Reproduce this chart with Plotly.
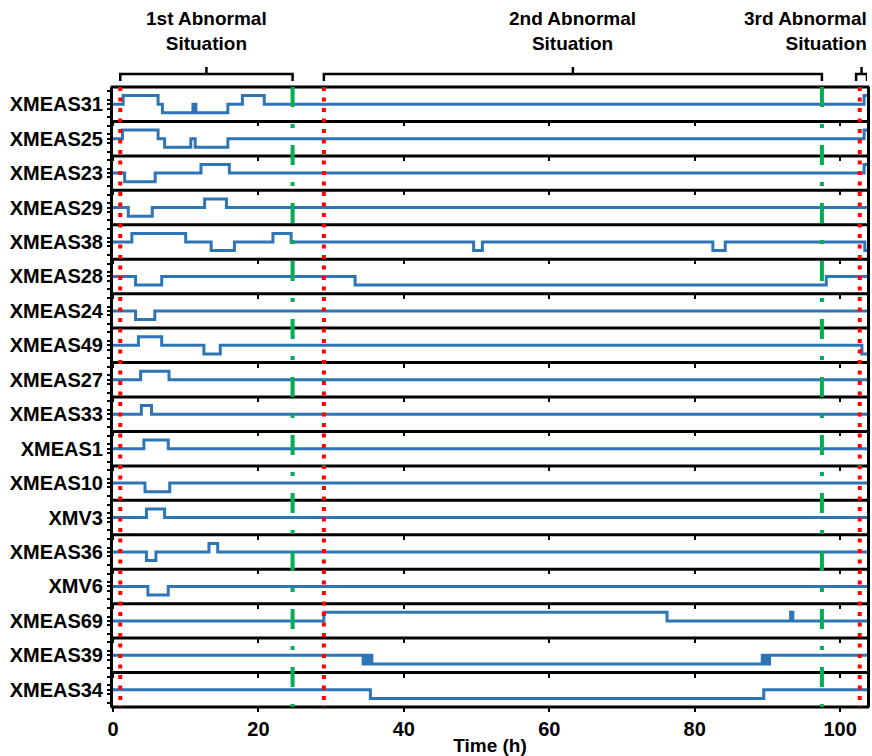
import plotly.graph_objects as go
from plotly.subplots import make_subplots

T_END = 103.7

labels = ["XMEAS31", "XMEAS25", "XMEAS23", "XMEAS29", "XMEAS38", "XMEAS28",
          "XMEAS24", "XMEAS49", "XMEAS27", "XMEAS33", "XMEAS1", "XMEAS10",
          "XMV3", "XMEAS36", "XMV6", "XMEAS69", "XMEAS39", "XMEAS34"]

# step signals: change times (h) and levels after each change (0 = normal, +1 high, -1 low)
t_xmeas31 = [0, 1.4, 6.2, 6.8, 11.0, 11.4, 15.8, 17.8, 20.8, 103.3]
y_xmeas31 = [0, 1, 0, -1, 0, -1, 0, 1, 0, 1]
t_xmeas25 = [0, 1.3, 6.2, 7.1, 10.7, 11.3, 15.8, 103.3]
y_xmeas25 = [0, 1, 0, -1, 0, -1, 0, 1]
t_xmeas23 = [0, 1.6, 5.8, 12.1, 16.0, 103.3]
y_xmeas23 = [0, -1, 0, 1, 0, 1]
t_xmeas29 = [0, 2.1, 5.4, 12.6, 15.6]
y_xmeas29 = [0, -1, 0, 1, 0]
t_xmeas38 = [0, 2.6, 10.0, 13.5, 16.7, 22.0, 24.5, 49.6, 50.8, 82.5, 84.2, 103.4]
y_xmeas38 = [0, 1, 0, -1, 0, 1, 0, -1, 0, -1, 0, -1]
t_xmeas28 = [0, 3.1, 6.7, 33.3, 98.1]
y_xmeas28 = [0, -1, 0, -1, 0]
t_xmeas24 = [0, 3.1, 5.75]
y_xmeas24 = [0, -1, 0]
t_xmeas49 = [0, 3.5, 6.7, 12.5, 14.75, 103.0]
y_xmeas49 = [0, 1, 0, -1, 0, -1]
t_xmeas27 = [0, 3.8, 7.7]
y_xmeas27 = [0, 1, 0]
t_xmeas33 = [0, 3.9, 5.3]
y_xmeas33 = [0, 1, 0]
t_xmeas1 = [0, 4.25, 7.6]
y_xmeas1 = [0, 1, 0]
t_xmeas10 = [0, 4.4, 7.8]
y_xmeas10 = [0, -1, 0]
t_xmv3 = [0, 4.6, 7.1]
y_xmv3 = [0, 1, 0]
t_xmeas36 = [0, 4.6, 5.9, 13.2, 14.4]
y_xmeas36 = [0, -1, 0, 1, 0]
t_xmv6 = [0, 4.8, 7.6]
y_xmv6 = [0, -1, 0]
t_xmeas69 = [0, 29.0, 76.2, 93.2, 93.5]
y_xmeas69 = [0, 1, 0, 1, 0]
t_xmeas39 = [0, 34.4, 34.8, 35.0, 35.4, 35.6, 89.3, 89.6, 89.8, 90.1, 90.3]
y_xmeas39 = [0, -1, 0, -1, 0, -1, 0, -1, 0, -1, 0]
t_xmeas34 = [0, 35.4, 89.5]
y_xmeas34 = [0, -1, 0]

times = [t_xmeas31, t_xmeas25, t_xmeas23, t_xmeas29, t_xmeas38, t_xmeas28,
         t_xmeas24, t_xmeas49, t_xmeas27, t_xmeas33, t_xmeas1, t_xmeas10,
         t_xmv3, t_xmeas36, t_xmv6, t_xmeas69, t_xmeas39, t_xmeas34]
levels = [y_xmeas31, y_xmeas25, y_xmeas23, y_xmeas29, y_xmeas38, y_xmeas28,
          y_xmeas24, y_xmeas49, y_xmeas27, y_xmeas33, y_xmeas1, y_xmeas10,
          y_xmv3, y_xmeas36, y_xmv6, y_xmeas69, y_xmeas39, y_xmeas34]

fault_starts = [1.0, 29.0, 102.7]     # red dotted
fault_ends = [24.7, 97.5]             # green dash-dot
situations = ["1st Abnormal<br>Situation", "2nd Abnormal<br>Situation", "3rd Abnormal<br>Situation"]
situation_spans = [(1.0, 24.7), (29.0, 97.5), (102.2, 103.7)]
x_ticks = [0, 20, 40, 60, 80, 100]

BLUE = "#2E75B6"
RED = "#FF0000"
GREEN = "#00B050"
FONT = "Liberation Sans, Arial, sans-serif"

n = len(labels)
fig = make_subplots(rows=n, cols=1, shared_xaxes=True, vertical_spacing=0)

for i in range(n):
    t = times[i] + [T_END]
    y = levels[i] + [levels[i][-1]]
    fig.add_trace(go.Scatter(x=t, y=y, mode="lines",
                             line=dict(color=BLUE, width=3, shape="hv"),
                             showlegend=False, hoverinfo="skip"),
                  row=i + 1, col=1)
    fig.update_yaxes(range=[-2, 2], showgrid=False, zeroline=False,
                     showline=True, linewidth=3, linecolor="black", mirror=True,
                     tickvals=[-1.5, -0.5, 0, 0.5, 1.5],
                     ticktext=["", "", "<b>" + labels[i] + "</b>", "", ""],
                     ticks="outside", ticklen=3, tickwidth=2, tickcolor="black",
                     tickfont=dict(family=FONT, size=20, color="black"),
                     row=i + 1, col=1)
    fig.update_xaxes(range=[0, T_END], showgrid=False, zeroline=False,
                     showline=False,
                     tickvals=x_ticks, ticktext=["<b>%d</b>" % v for v in x_ticks],
                     ticks="outside", ticklen=4, tickwidth=2,
                     tickcolor="black",
                     tickfont=dict(family=FONT, size=20, color="black"),
                     row=i + 1, col=1)

fig.update_xaxes(title=dict(text="<b>Time (h)</b>", font=dict(family=FONT, size=19, color="black"),
                            standoff=0),
                 row=n, col=1)

bottom_x = "x" + str(n)
shapes = []
# row separators and frame
for k in range(n + 1):
    shapes.append(dict(type="line", xref="paper", yref="paper", x0=-0.003, x1=1.003,
                       y0=k / n, y1=k / n, line=dict(color="black", width=3)))
for xv in fault_starts:
    shapes.append(dict(type="line", xref=bottom_x, yref="paper", x0=xv, x1=xv, y0=1, y1=0,
                       line=dict(color=RED, width=4, dash="4px,6.5px")))
for xv in fault_ends:
    shapes.append(dict(type="line", xref=bottom_x, yref="paper", x0=xv, x1=xv, y0=1, y1=0,
                       line=dict(color=GREEN, width=4, dash="20px,17px,4px,17px")))


def py(pix):
    return (707 - pix) / 620.0


annotations = []
for k, (a, b) in enumerate(situation_spans):
    c = (a + b) / 2
    shapes.append(dict(type="path", xref=bottom_x, yref="paper",
                       path=f"M {a},{py(81)} L {a},{py(74)} L {b},{py(74)} L {b},{py(81)}",
                       line=dict(color="black", width=2.5)))
    shapes.append(dict(type="line", xref=bottom_x, yref="paper", x0=c, x1=c, y0=py(74), y1=py(67),
                       line=dict(color="black", width=2.5)))
    if k < 2:
        annotations.append(dict(text="<b>" + situations[k] + "</b>", xref=bottom_x, yref="paper",
                                x=c, y=py(31), xanchor="center", yanchor="middle", showarrow=False,
                                align="center", font=dict(family=FONT, size=19, color="black")))
    else:
        annotations.append(dict(text="<b>" + situations[k] + "</b>", xref="paper", yref="paper",
                                x=1.003, y=py(31), xanchor="right", yanchor="middle", showarrow=False,
                                align="right", font=dict(family=FONT, size=19, color="black")))

fig.update_layout(width=872, height=756, margin=dict(l=113, r=2, t=87, b=49),
                  plot_bgcolor="white", paper_bgcolor="white",
                  shapes=shapes, annotations=annotations,
                  font=dict(family=FONT, color="black"))

fig.write_html("out.html")
